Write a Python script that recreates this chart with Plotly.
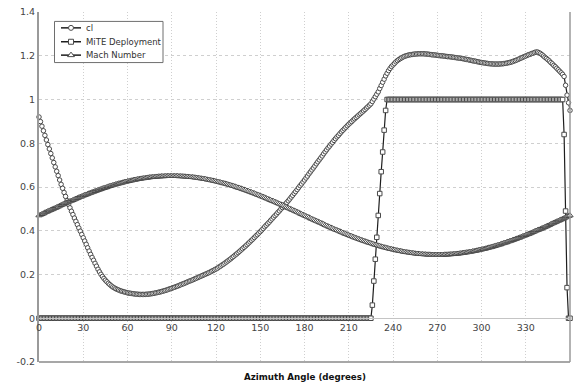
import plotly.graph_objects as go

# Azimuth positions (degrees), one sample per degree
azimuth = list(range(0, 361))

# Section lift coefficient around the azimuth
cl = [
    0.920, 0.899, 0.878, 0.857, 0.836, 0.815, 0.794, 0.774, 0.753, 0.733,
    0.712, 0.692, 0.672, 0.652, 0.632, 0.612, 0.594, 0.575, 0.557, 0.538,
    0.520, 0.505, 0.489, 0.474, 0.458, 0.443, 0.428, 0.413, 0.398, 0.383,
    0.368, 0.353, 0.338, 0.322, 0.307, 0.292, 0.278, 0.265, 0.251, 0.238,
    0.224, 0.212, 0.201, 0.191, 0.182, 0.174, 0.167, 0.160, 0.154, 0.148,
    0.143, 0.139, 0.135, 0.132, 0.129, 0.126, 0.124, 0.122, 0.120, 0.118,
    0.116, 0.115, 0.114, 0.113, 0.112, 0.111, 0.110, 0.110, 0.109, 0.109,
    0.109, 0.109, 0.109, 0.110, 0.110, 0.111, 0.112, 0.113, 0.114, 0.116,
    0.117, 0.119, 0.120, 0.122, 0.124, 0.126, 0.128, 0.130, 0.133, 0.135,
    0.137, 0.140, 0.142, 0.145, 0.147, 0.150, 0.153, 0.156, 0.158, 0.161,
    0.164, 0.167, 0.170, 0.172, 0.175, 0.178, 0.181, 0.184, 0.187, 0.190,
    0.193, 0.196, 0.199, 0.202, 0.205, 0.208, 0.211, 0.215, 0.218, 0.222,
    0.225, 0.229, 0.234, 0.238, 0.243, 0.247, 0.252, 0.257, 0.262, 0.267,
    0.272, 0.278, 0.283, 0.289, 0.294, 0.300, 0.306, 0.312, 0.318, 0.324,
    0.330, 0.336, 0.343, 0.349, 0.356, 0.362, 0.369, 0.376, 0.382, 0.389,
    0.396, 0.403, 0.410, 0.418, 0.425, 0.432, 0.439, 0.447, 0.454, 0.462,
    0.469, 0.476, 0.484, 0.491, 0.499, 0.506, 0.514, 0.522, 0.529, 0.537,
    0.545, 0.554, 0.562, 0.571, 0.579, 0.588, 0.597, 0.606, 0.614, 0.623,
    0.632, 0.641, 0.650, 0.660, 0.669, 0.678, 0.687, 0.696, 0.706, 0.715,
    0.724, 0.733, 0.742, 0.752, 0.761, 0.770, 0.779, 0.787, 0.796, 0.804,
    0.813, 0.821, 0.829, 0.836, 0.844, 0.852, 0.859, 0.866, 0.873, 0.880,
    0.887, 0.893, 0.899, 0.906, 0.912, 0.918, 0.924, 0.930, 0.936, 0.942,
    0.948, 0.954, 0.961, 0.967, 0.974, 0.980, 0.991, 1.002, 1.013, 1.024,
    1.035, 1.050, 1.064, 1.079, 1.093, 1.108, 1.120, 1.132, 1.142, 1.151,
    1.158, 1.165, 1.172, 1.178, 1.183, 1.187, 1.191, 1.195, 1.198, 1.200,
    1.202, 1.204, 1.205, 1.206, 1.207, 1.208, 1.208, 1.209, 1.209, 1.209,
    1.209, 1.209, 1.208, 1.208, 1.207, 1.206, 1.205, 1.204, 1.204, 1.203,
    1.202, 1.201, 1.200, 1.200, 1.199, 1.198, 1.197, 1.196, 1.196, 1.195,
    1.194, 1.193, 1.192, 1.191, 1.190, 1.189, 1.188, 1.187, 1.186, 1.184,
    1.183, 1.182, 1.180, 1.179, 1.177, 1.176, 1.175, 1.173, 1.172, 1.170,
    1.169, 1.168, 1.167, 1.166, 1.165, 1.164, 1.163, 1.163, 1.162, 1.162,
    1.162, 1.162, 1.162, 1.163, 1.163, 1.164, 1.165, 1.166, 1.168, 1.169,
    1.171, 1.173, 1.176, 1.178, 1.181, 1.184, 1.187, 1.190, 1.193, 1.196,
    1.199, 1.202, 1.205, 1.207, 1.210, 1.212, 1.215, 1.217, 1.217, 1.214,
    1.210, 1.205, 1.199, 1.193, 1.188, 1.182, 1.176, 1.169, 1.163, 1.156,
    1.150, 1.143, 1.136, 1.129, 1.122, 1.115, 1.105, 1.065, 1.020, 0.985,
    0.950,
]

# Flap (MiTE) deployment state: retracted, ramp out, deployed, ramp back
mite = (
    [0.0] * 226
    + [0.06, 0.17, 0.27, 0.37, 0.47, 0.57, 0.67, 0.76, 0.86, 0.95]
    + [1.0] * 120
    + [0.84, 0.49, 0.14, 0.0, 0.0]
)

# Local Mach number seen by the blade section
mach = [
    0.470, 0.473, 0.476, 0.479, 0.483, 0.486, 0.489, 0.492, 0.495, 0.498,
    0.501, 0.504, 0.507, 0.510, 0.514, 0.517, 0.520, 0.523, 0.526, 0.529,
    0.532, 0.535, 0.537, 0.540, 0.543, 0.546, 0.549, 0.552, 0.555, 0.557,
    0.560, 0.563, 0.565, 0.568, 0.571, 0.573, 0.576, 0.578, 0.581, 0.583,
    0.586, 0.588, 0.590, 0.593, 0.595, 0.597, 0.599, 0.602, 0.604, 0.606,
    0.608, 0.610, 0.612, 0.614, 0.616, 0.617, 0.619, 0.621, 0.623, 0.624,
    0.626, 0.627, 0.629, 0.630, 0.632, 0.633, 0.634, 0.636, 0.637, 0.638,
    0.639, 0.640, 0.641, 0.642, 0.643, 0.644, 0.645, 0.645, 0.646, 0.647,
    0.647, 0.648, 0.648, 0.649, 0.649, 0.649, 0.650, 0.650, 0.650, 0.650,
    0.650,
    0.650, 0.650, 0.650, 0.650, 0.649, 0.649, 0.649, 0.648, 0.648, 0.647,
    0.647, 0.646, 0.645, 0.645, 0.644, 0.643, 0.642, 0.641, 0.640, 0.639,
    0.638, 0.637, 0.636, 0.634, 0.633, 0.632, 0.630, 0.629, 0.627, 0.626,
    0.624, 0.623, 0.621, 0.619, 0.617, 0.616, 0.614, 0.612, 0.610, 0.608,
    0.606, 0.604, 0.602, 0.599, 0.597, 0.595, 0.593, 0.590, 0.588, 0.586,
    0.583, 0.581, 0.578, 0.576, 0.573, 0.571, 0.568, 0.565, 0.563, 0.560,
    0.557, 0.555, 0.552, 0.549, 0.546, 0.543, 0.540, 0.537, 0.535, 0.532,
    0.529, 0.526, 0.523, 0.520, 0.517, 0.514, 0.510, 0.507, 0.504, 0.501,
    0.498, 0.495, 0.492, 0.489, 0.486, 0.483, 0.479, 0.476, 0.473, 0.470,
    0.467, 0.464, 0.461, 0.457, 0.454, 0.451, 0.448, 0.445, 0.442, 0.439,
    0.436, 0.433, 0.430, 0.426, 0.423, 0.420, 0.417, 0.414, 0.411, 0.408,
    0.405, 0.403, 0.400, 0.397, 0.394, 0.391, 0.388, 0.385, 0.383, 0.380,
    0.377, 0.375, 0.372, 0.369, 0.367, 0.364, 0.362, 0.359, 0.357, 0.354,
    0.352, 0.350, 0.347, 0.345, 0.343, 0.341, 0.338, 0.336, 0.334, 0.332,
    0.330, 0.328, 0.326, 0.324, 0.323, 0.321, 0.319, 0.317, 0.316, 0.314,
    0.313, 0.311, 0.310, 0.308, 0.307, 0.306, 0.304, 0.303, 0.302, 0.301,
    0.300, 0.299, 0.298, 0.297, 0.296, 0.295, 0.295, 0.294, 0.293, 0.293,
    0.292, 0.292, 0.291, 0.291, 0.291, 0.290, 0.290, 0.290, 0.290, 0.290,
    0.290, 0.290, 0.290, 0.290, 0.291, 0.291, 0.291, 0.292, 0.292, 0.293,
    0.293, 0.294, 0.295, 0.295, 0.296, 0.297, 0.298, 0.299, 0.300, 0.301,
    0.302, 0.303, 0.304, 0.306, 0.307, 0.308, 0.310, 0.311, 0.313, 0.314,
    0.316, 0.317, 0.319, 0.321, 0.323, 0.324, 0.326, 0.328, 0.330, 0.332,
    0.334, 0.336, 0.338, 0.341, 0.343, 0.345, 0.347, 0.350, 0.352, 0.354,
    0.357, 0.359, 0.362, 0.364, 0.367, 0.369, 0.372, 0.375, 0.377, 0.380,
    0.383, 0.385, 0.388, 0.391, 0.394, 0.397, 0.400, 0.403, 0.405, 0.408,
    0.411, 0.414, 0.417, 0.420, 0.423, 0.426, 0.430, 0.433, 0.436, 0.439,
    0.442, 0.445, 0.448, 0.451, 0.454, 0.457, 0.461, 0.464, 0.467, 0.470,
]

series_names = ["cl", "MiTE Deployment", "Mach Number"]

x_ticks = [0, 30, 60, 90, 120, 150, 180, 210, 240, 270, 300, 330, 360]
x_tick_labels = ["0", "30", "60", "90", "120", "150", "180", "210",
                 "240", "270", "300", "330", "360"]
y_ticks = [-0.2, 0, 0.2, 0.4, 0.6, 0.8, 1.0, 1.2, 1.4]
y_tick_labels = ["-0.2", "0", "0.2", "0.4", "0.6", "0.8", "1", "1.2", "1.4"]

FONT = "DejaVu Sans, Verdana, sans-serif"
LINE = "#1e1e1e"
EDGE = "#4a4a4a"

# plot area in pixels (left, right, top, bottom)
PL, PR, PT, PB = 39, 570, 9, 362

styles = [("circle", 4.5), ("square", 4.5), ("triangle-up", 5.5)]

fig = go.Figure()

for name, values, (symbol, size) in zip(series_names, [cl, mite, mach], styles):
    fig.add_trace(go.Scatter(
        x=azimuth, y=values, name=name, mode="lines+markers",
        line=dict(color=LINE, width=1.2),
        marker=dict(symbol=symbol, size=size, color="white",
                    line=dict(color=EDGE, width=1)),
        cliponaxis=False, showlegend=False,
    ))

# Compact boxed key drawn on a pixel-space overlay of the plot area
key_box = dict(left=54.5, right=163, top=18.5, bottom=60)
key_rows = [25, 39, 52.5]
fig.add_trace(go.Scatter(
    x=[key_box["left"], key_box["right"], key_box["right"],
       key_box["left"], key_box["left"]],
    y=[key_box["top"], key_box["top"], key_box["bottom"],
       key_box["bottom"], key_box["top"]],
    xaxis="x2", yaxis="y2", mode="lines", fill="toself",
    fillcolor="white", line=dict(color="#6e6e6e", width=1),
    showlegend=False, hoverinfo="skip",
))
key_notes = []
for name, row, (symbol, size) in zip(series_names, key_rows, styles):
    fig.add_trace(go.Scatter(
        x=[61, 81], y=[row, row], xaxis="x2", yaxis="y2", mode="lines",
        line=dict(color=LINE, width=1.5), showlegend=False, hoverinfo="skip",
    ))
    fig.add_trace(go.Scatter(
        x=[71], y=[row], xaxis="x2", yaxis="y2", mode="markers",
        marker=dict(symbol=symbol, size=size + 0.5, color="white",
                    line=dict(color=EDGE, width=1)),
        showlegend=False, hoverinfo="skip",
    ))
    key_notes.append(dict(
        text=name, xref="x2", yref="y2", x=84, y=row,
        xanchor="left", yanchor="middle", showarrow=False,
        font=dict(family=FONT, size=8.5, color="#333"),
    ))

fig.update_layout(
    width=576, height=385,
    margin=dict(l=PL, r=576 - PR, t=PT, b=385 - PB),
    paper_bgcolor="white", plot_bgcolor="white",
    font=dict(family=FONT, size=9.5, color="#444"),
    showlegend=False,
    xaxis=dict(
        range=[0, 360], tickvals=x_ticks, ticktext=x_tick_labels,
        anchor="free", position=0.125,
        showline=True, linecolor="#c4c4c4", linewidth=1,
        showgrid=True, gridcolor="#cfcfcf", griddash="1px,2px", gridwidth=1,
        zeroline=False, ticks="",
        tickfont=dict(family=FONT, size=9.5, color="#444"),
    ),
    yaxis=dict(
        range=[-0.2, 1.4], tickvals=y_ticks, ticktext=y_tick_labels,
        showline=True, linecolor="#9a9a9a", linewidth=2,
        showgrid=True, gridcolor="#cfcfcf", griddash="3px,3px", gridwidth=1,
        zeroline=False, ticks="",
        tickfont=dict(family=FONT, size=9.5, color="#444"),
    ),
    xaxis2=dict(range=[PL, PR], overlaying="x", anchor="y2", visible=False,
                fixedrange=True),
    yaxis2=dict(range=[PB, PT], overlaying="y", anchor="x2", visible=False,
                fixedrange=True),
    shapes=[
        dict(type="line", xref="paper", yref="paper", x0=0, x1=1, y0=0, y1=0,
             line=dict(color="#8a8a8a", width=1.5)),
        dict(type="line", xref="paper", yref="paper", x0=1, x1=1, y0=0, y1=1,
             line=dict(color="#9a9a9a", width=1.5)),
    ],
    annotations=[
        dict(text="<b>Azimuth Angle (degrees)</b>", xref="paper", yref="paper",
             x=0.5, y=-0.0425, xanchor="center", yanchor="middle",
             showarrow=False, font=dict(family=FONT, size=8.7, color="#111")),
    ] + key_notes,
)

fig.write_html("out.html")
